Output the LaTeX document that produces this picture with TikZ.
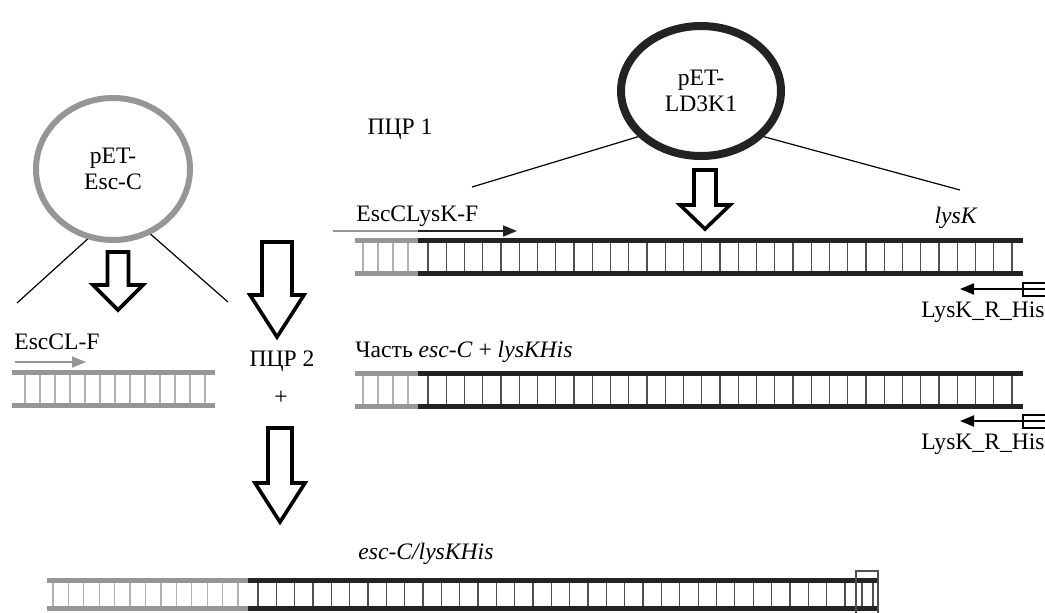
\documentclass[tikz,border=0pt]{standalone}
\usepackage{fontspec}
\setmainfont{Liberation Serif}
\definecolor{escgray}{RGB}{150,150,150}
\definecolor{rungrey}{RGB}{178,178,178}
\definecolor{lysblack}{RGB}{35,35,35}
\definecolor{rungdark}{RGB}{80,80,80}
\usetikzlibrary{
  arrows.meta,
  calc,
  positioning,
  shapes.geometric,
}
\tikzset{
  >={Triangle[length=7pt, width=5.5pt]},
  pics/pcrarrow/.style args={#1/#2/#3/#4}{code={
    \draw [line width=1.8pt, miter limit=10, fill=white]
      (-#1,0) -- (#1,0) -- (#1,#3) -- (#2,#3) -- (0,#4) -- (-#2,#3)
      -- (-#1,#3) -- cycle;
  }},
}

\begin{document}
\begin{tikzpicture}[x=0.5pt, y=-0.5pt, font=\fontsize{11.8}{12.8}\selectfont,
    plasmid/.style={ellipse, align=center, inner sep=0pt},
    strand/.style={line width=2.5pt},
    rung/.style={line width=0.65pt},
    primer/.style={line width=0.8pt, ->},
    zoomline/.style={line width=0.6pt}]
  \useasboundingbox (0,0) rectangle (1045,612);

  % plasmids
  \node [plasmid, draw=escgray, line width=3pt, minimum width=77pt,
         minimum height=71pt] (escc) at (113,169) {pET-\\Esc-C};
  \node [plasmid, draw=lysblack, line width=4pt, minimum width=80pt,
         minimum height=65pt] (ld3k1) at (701,91) {pET-\\LD3K1};
  \coordinate (escleft) at (17,303);
  \coordinate (escright) at (228,302);
  \coordinate (lysleft) at (472,187);
  \coordinate (lysright) at (960,190);
  \draw [zoomline] (escc.250) -- (escleft);
  \draw [zoomline] (escc.300) -- (escright);
  \draw [zoomline] (ld3k1.216) -- (lysleft);
  \draw [zoomline] (ld3k1.324) -- (lysright);

  % block arrows
  \pic (arrowesc) at (118,252) {pcrarrow={10.5/25/33/58}};
  \pic (arrowpcr) at (277,242) {pcrarrow={15/27/53/95}};
  \pic (arrowlys) at (705,170) {pcrarrow={11/25/35/59}};
  \pic (arrowfin) at (280,428) {pcrarrow={12/25/55/94}};

  \node [anchor=base] (pcr1) at (400,134) {ПЦР 1};
  \node [anchor=base] (pcr2) at (282,366) {ПЦР 2};
  \node (plus) at (281,398) {+};

  % EscCL-F product
  \foreach \x in {25,40,...,205}
    \draw [rung, rungrey] (\x,372) -- (\x,405);
  \draw [strand, escgray] (12,372) -- (215,372);
  \draw [strand, escgray] (12,405) -- (215,405);
  \node [anchor=base west, inner sep=0pt] (esclf) at (14,349) {EscCL-F};
  \draw [primer, escgray] (15,362) -- (86,362);

  % lysK templates
  \foreach \y/\ya/\yl in {240/289/317, 373/421/449} {
    \foreach \x in {363,378,...,408}
      \draw [rung, rungrey] (\x,\y) -- (\x,\y+33);
    \foreach \k in {0,...,32}
      \draw [rung, rungdark] ({428+18.25*\k},\y) -- ({428+18.25*\k},\y+33);
    \draw [strand, escgray] (355,\y) -- (418,\y);
    \draw [strand, escgray] (355,\y+33) -- (418,\y+33);
    \draw [strand, lysblack] (418,\y) -- (1023,\y);
    \draw [strand, lysblack] (418,\y+33) -- (1023,\y+33);
    \draw [line width=0.6pt] (1023,\ya-6) rectangle (1052,\ya+7);
    \draw [line width=0.6pt] (1023,\ya) -- (1052,\ya);
    \draw [primer, line width=1pt] (1023,\ya) -- (960,\ya);
    \node [anchor=base east, inner sep=0pt] at (1045,\yl) {LysK\_R\_His};
  }
  \node [anchor=base west, inner sep=0pt] (lysf) at (356,221) {EscCLysK-F};
  \draw [line width=0.6pt, escgray] (333,231) -- (418,231);
  \draw [primer, lysblack] (418,231) -- (517,231);
  \node [anchor=base east, inner sep=0pt] (lysk) at (978,223) {\textit{lysK}};
  \node [anchor=base west, inner sep=0pt] (part) at (355,357)
        {Часть \textit{esc-C} + \textit{lysKHis}};

  % final product
  \foreach \k in {0,...,12}
    \draw [rung, rungrey] ({53+15.42*\k},580) -- ++(0,28);
  \foreach \k in {0,...,32}
    \draw [rung, rungdark] ({258+18.34*\k},580) -- ++(0,28);
  \draw [rung, rungdark] (862,580) -- ++(0,28);
  \draw [rung, rungdark] (873,580) -- ++(0,28);
  \draw [strand, escgray] (47,580) -- (248,580);
  \draw [strand, escgray] (47,608) -- (248,608);
  \draw [strand, lysblack] (248,580) -- (878,580);
  \draw [strand, lysblack] (248,608) -- (878,608);
  \draw [line width=0.6pt, rungdark] (856,614) rectangle (878,571);
  \node [anchor=base west, inner sep=0pt] (fin) at (358,559)
        {\textit{esc-C/lysKHis}};
\end{tikzpicture}
\end{document}
